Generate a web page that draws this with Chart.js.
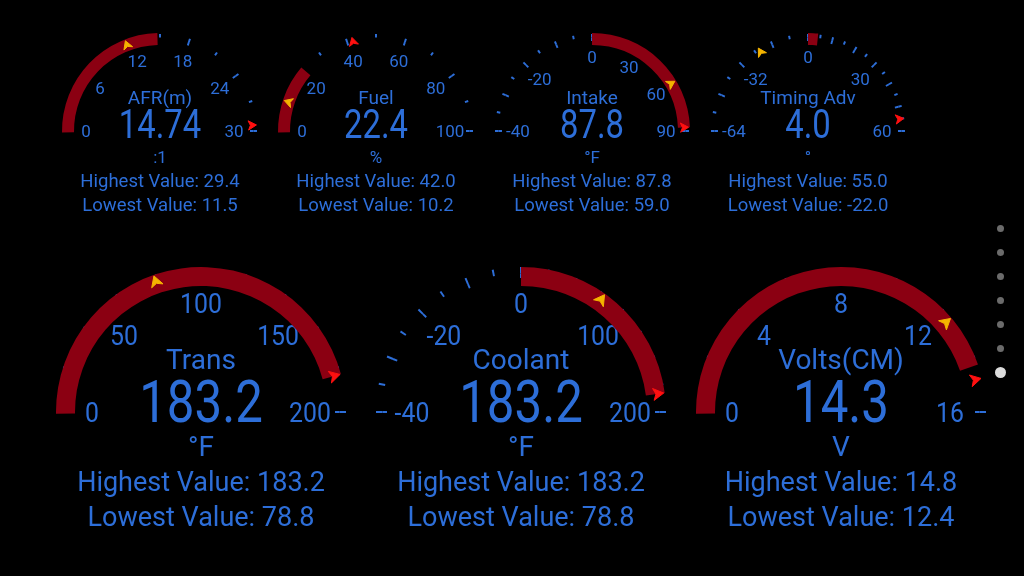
<!DOCTYPE html>
<html>
<head>
<meta charset="utf-8">
<script src="https://cdn.jsdelivr.net/npm/chart.js@4"></script>
<style>
  html, body { margin: 0; padding: 0; background: #000; }
  #board { position: relative; width: 1024px; height: 576px; overflow: hidden; background: #000; font-family: Roboto, sans-serif; }
  #board canvas { position: absolute; }
  .txt { position: absolute; color: #2d6ed8; white-space: nowrap; line-height: 1; z-index: 10; }
  .dot { position: absolute; border-radius: 50%; }
</style>
</head>
<body>
<div id="board"></div>
<script>
const gaugeNames = ['AFR(m)', 'Fuel', 'Intake', 'Timing Adv', 'Trans', 'Coolant', 'Volts(CM)'];
const gaugeUnits = [':1', '%', '°F', '°', '°F', '°F', 'V'];
const currentValues = [14.74, 22.4, 87.8, 4.0, 183.2, 183.2, 14.3];
const valueDecimals = [2, 1, 1, 1, 1, 1, 1];
const highestValues = [29.4, 42.0, 87.8, 55.0, 183.2, 183.2, 14.8];
const lowestValues = [11.5, 10.2, 59.0, -22.0, 78.8, 78.8, 12.4];
const scaleMin = [0, 0, -40, -64, 0, -40, 0];
const scaleMax = [30, 100, 90, 60, 200, 200, 16];
// tick spacing below zero / above zero
const tickSteps = [[3, 3], [10, 10], [5, 7.5], [8, 5], [20, 20], [5, 25], [2, 2]];
const tickLabels = [
    [0, 6, 12, 18, 24, 30],
    [0, 20, 40, 60, 80, 100],
    [-40, -20, 0, 30, 60, 90],
    [-64, -32, 0, 30, 60],
    [0, 50, 100, 150, 200],
    [-40, -20, 0, 100, 200],
    [0, 4, 8, 12, 16]
];

const BLUE = '#2d6ed8';
const ARC_RED = '#8b0012';
const AMBER = '#f5b400';
const PEAK_RED = '#ff1010';
const CLEAR = 'rgba(0,0,0,0)';
const START = 6; // rings start a little below the left horizontal
const TICK_PX = 2;

const centers = [[160, 131], [376, 131], [592, 131], [808, 131], [201, 412], [521, 412], [841, 412]];
const smallDial = {
    canvas: 224, arcOuter: 98, arcInner: 86, tickOuter: 97, tickMid: 93.5, tickInner: 90,
    markR: 92, markSize: 5.8, labelR: 74, labelSize: 17, labelSqueeze: 1,
    rows: { title: 97, value: 125, unit: 157, hi: 181, lo: 205 },
    sizes: { title: 19, value: 40, unit: 17, stat: 18.5 }
};
const bigDial = {
    canvas: 320, arcOuter: 145, arcInner: 126, tickOuter: 145, tickMid: 138.5, tickInner: 134,
    markR: 138, markSize: 7.5, labelR: 109, labelSize: 27, labelSqueeze: 0.92,
    rows: { title: 360, value: 402, unit: 447, hi: 482, lo: 517 },
    sizes: { title: 28, value: 60, unit: 28, stat: 27 }
};
const VALUE_SQUEEZE = 0.82;

const board = document.getElementById('board');

// value -> angle in degrees (180 = left end, 0 = right end); dials with negatives put zero on top
function toAngle(i, v) {
    const lo = scaleMin[i], hi = scaleMax[i];
    if (lo < 0) return v < 0 ? 90 + 90 * v / lo : 90 - 90 * v / hi;
    return 180 - 180 * (v - lo) / (hi - lo);
}

function sweep(i, v) {
    return START + 180 - toAngle(i, v);
}

function tickValues(i) {
    const lo = scaleMin[i], hi = scaleMax[i];
    const [negStep, posStep] = tickSteps[i];
    const out = [];
    if (lo < 0) {
        const n = Math.round(-lo / negStep);
        for (let k = 0; k < n; k++) out.push(lo + k * negStep);
        const m = Math.round(hi / posStep);
        for (let k = 0; k <= m; k++) out.push(k * posStep);
    } else {
        const n = Math.round((hi - lo) / posStep);
        for (let k = 0; k <= n; k++) out.push(lo + k * posStep);
    }
    return out;
}

// turn a sorted list of {from, len, color} into doughnut slices with clear gaps
function buildRing(marks) {
    const data = [], colors = [], tags = [];
    let at = 0;
    marks.forEach(m => {
        data.push(Math.max(m.from - at, 0)); colors.push(CLEAR); tags.push(null);
        data.push(m.len); colors.push(m.color); tags.push(m.tag || null);
        at = m.from + m.len;
    });
    data.push(Math.max(360 - at, 0)); colors.push(CLEAR); tags.push(null);
    return { data, colors, tags };
}

function dialOptions(outer, inner, pluginOpts) {
    return {
        responsive: false,
        animation: false,
        events: [],
        rotation: -90 - START,
        circumference: 360,
        radius: outer,
        cutout: (inner / outer * 100) + '%',
        layout: { padding: 0 },
        plugins: Object.assign({ legend: { display: false }, tooltip: { enabled: false } }, pluginOpts || {})
    };
}

function addCanvas(cx, cy, size, z) {
    const c = document.createElement('canvas');
    c.width = size;
    c.height = size;
    c.style.left = (cx - size / 2) + 'px';
    c.style.top = (cy - size / 2) + 'px';
    c.style.zIndex = z;
    board.appendChild(c);
    return c;
}

function addText(str, x, y, size, squeeze) {
    const d = document.createElement('div');
    d.className = 'txt';
    d.textContent = str;
    d.style.left = x + 'px';
    d.style.top = y + 'px';
    d.style.fontSize = size + 'px';
    d.style.transform = `translate(-50%, -50%) scaleX(${squeeze || 1})`;
    board.appendChild(d);
}

const labelPlugin = {
    id: 'dialLabels',
    afterDatasetsDraw(chart, args, opts) {
        const arc = chart.getDatasetMeta(0).data[0];
        const { x, y } = arc.getProps(['x', 'y'], true);
        const ctx = chart.ctx;
        ctx.save();
        ctx.fillStyle = BLUE;
        ctx.font = `${opts.size}px Roboto`;
        ctx.textAlign = 'center';
        ctx.textBaseline = 'alphabetic';
        tickLabels[opts.gauge].forEach(v => {
            const a = toAngle(opts.gauge, v) * Math.PI / 180;
            ctx.save();
            ctx.translate(x + opts.radius * Math.cos(a), y - opts.radius * Math.sin(a) + opts.size * 0.355);
            ctx.scale(opts.squeeze, 1);
            ctx.fillText(String(v), 0, 0);
            ctx.restore();
        });
        ctx.restore();
    }
};

const chevronPlugin = {
    id: 'chevrons',
    afterDatasetsDraw(chart) {
        const ds = chart.data.datasets[0];
        const ctx = chart.ctx;
        chart.getDatasetMeta(0).data.forEach((arc, j) => {
            const color = ds.markerColors[j];
            if (!color) return;
            const p = arc.getProps(['x', 'y', 'startAngle', 'endAngle', 'innerRadius', 'outerRadius'], true);
            const a = (p.startAngle + p.endAngle) / 2;
            const r = (p.innerRadius + p.outerRadius) / 2;
            const s = ds.markerSize;
            const dx = Math.cos(a), dy = Math.sin(a), nx = -dy, ny = dx;
            const px = p.x + dx * r, py = p.y + dy * r;
            ctx.beginPath();
            ctx.moveTo(px + dx * s * 0.8, py + dy * s * 0.8);
            ctx.lineTo(px - dx * s * 0.6 + nx * s * 0.8, py - dy * s * 0.6 + ny * s * 0.8);
            ctx.lineTo(px - dx * s * 0.25, py - dy * s * 0.25);
            ctx.lineTo(px - dx * s * 0.6 - nx * s * 0.8, py - dy * s * 0.6 - ny * s * 0.8);
            ctx.closePath();
            ctx.fillStyle = color;
            ctx.fill();
            ctx.lineJoin = 'round';
            ctx.lineWidth = 1;
            ctx.strokeStyle = color;
            ctx.stroke();
        });
    }
};

function drawGauge(i) {
    const dial = i < 4 ? smallDial : bigDial;
    const [cx, cy] = centers[i];

    // tick marks: outer ring holds every tick, inner ring lengthens every other one
    const ticks = tickValues(i);
    const w = TICK_PX / dial.tickOuter * 180 / Math.PI;
    const all = buildRing(ticks.map(v => ({ from: sweep(i, v) - w / 2, len: w, color: BLUE })));
    const majors = buildRing(ticks.filter((v, k) => k % 2 === 0)
        .map(v => ({ from: sweep(i, v) - w / 2, len: w, color: BLUE })));
    new Chart(addCanvas(cx, cy, dial.canvas, 1), {
        type: 'doughnut',
        data: {
            datasets: [
                { data: all.data, backgroundColor: all.colors, borderWidth: 0, weight: dial.tickOuter - dial.tickMid },
                { data: majors.data, backgroundColor: majors.colors, borderWidth: 0, weight: dial.tickMid - dial.tickInner }
            ]
        },
        options: dialOptions(dial.tickOuter, dial.tickInner, {
            dialLabels: { gauge: i, radius: dial.labelR, size: dial.labelSize, squeeze: dial.labelSqueeze }
        }),
        plugins: [labelPlugin]
    });

    // value arc; when it starts at the low end it also hides the first tick
    const from = scaleMin[i] < 0 ? 0 : scaleMin[i];
    const lead = from === scaleMin[i] ? w / 2 + 0.3 : 0;
    const red = buildRing([{
        from: sweep(i, from) - lead,
        len: sweep(i, currentValues[i]) - sweep(i, from) + lead,
        color: ARC_RED
    }]);
    new Chart(addCanvas(cx, cy, dial.canvas, 2), {
        type: 'doughnut',
        data: { datasets: [{ data: red.data, backgroundColor: red.colors, borderWidth: 0 }] },
        options: dialOptions(dial.arcOuter, dial.arcInner)
    });

    // lowest / highest markers
    const marks = [{ v: lowestValues[i], color: AMBER }, { v: highestValues[i], color: PEAK_RED }]
        .sort((a, b) => sweep(i, a.v) - sweep(i, b.v));
    const mk = buildRing(marks.map(m => ({ from: sweep(i, m.v) - 0.25, len: 0.5, color: CLEAR, tag: m.color })));
    new Chart(addCanvas(cx, cy, dial.canvas, 3), {
        type: 'doughnut',
        data: {
            datasets: [{ data: mk.data, backgroundColor: CLEAR, borderWidth: 0, markerColors: mk.tags, markerSize: dial.markSize }]
        },
        options: dialOptions(dial.markR + 3, dial.markR - 3),
        plugins: [chevronPlugin]
    });

    // centre readout
    const rows = dial.rows, sz = dial.sizes;
    addText(gaugeNames[i], cx, rows.title, sz.title);
    addText(currentValues[i].toFixed(valueDecimals[i]), cx, rows.value, sz.value, VALUE_SQUEEZE);
    addText(gaugeUnits[i], cx, rows.unit, sz.unit);
    addText('Highest Value: ' + highestValues[i].toFixed(1), cx, rows.hi, sz.stat);
    addText('Lowest Value: ' + lowestValues[i].toFixed(1), cx, rows.lo, sz.stat);
}

for (let i = 0; i < gaugeNames.length; i++) drawGauge(i);

// page indicator on the right
[228, 252, 276, 300, 324, 348, 372].forEach((y, k) => {
    const last = k === 6;
    const d = document.createElement('div');
    const size = last ? 11 : 7;
    d.className = 'dot';
    d.style.width = size + 'px';
    d.style.height = size + 'px';
    d.style.left = (1000 - size / 2) + 'px';
    d.style.top = (y - size / 2) + 'px';
    d.style.background = last ? '#dcdcdc' : '#6b6b6b';
    board.appendChild(d);
});
</script>
</body>
</html>
